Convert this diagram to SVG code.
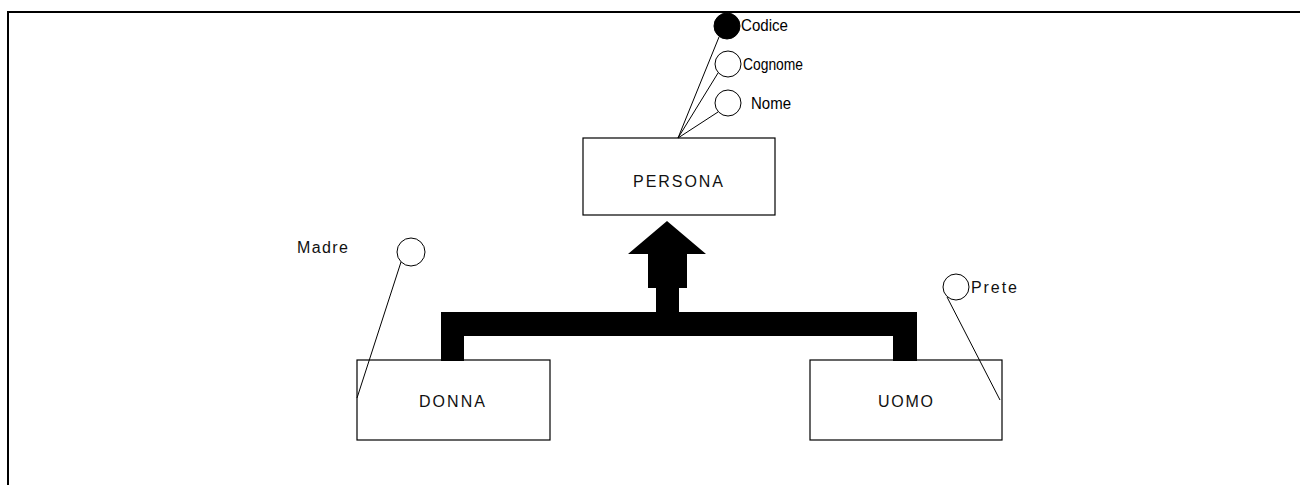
<svg xmlns="http://www.w3.org/2000/svg" width="1300" height="485" viewBox="0 0 1300 485">
<style>
.box{fill:#fff;stroke:#000;stroke-width:1.2}
.attr{fill:#fff;stroke:#000;stroke-width:1}
.key{fill:#000;stroke:#000;stroke-width:1}
.ln{stroke:#000;stroke-width:1;fill:none}
text{font-family:"Liberation Sans",Arial,sans-serif;font-size:16px;fill:#000}
.lbl{font-size:16px;fill:#111}
</style>
<rect width="1300" height="485" fill="#fff"/>
<path d="M8,485 V12 H1300" fill="none" stroke="#000" stroke-width="2"/>
<g id="persona"><rect class="box" x="583" y="138" width="192" height="77"/><text class="lbl" x="633" y="187" textLength="90" lengthAdjust="spacing">PERSONA</text></g>
<g id="codice"><circle class="key" cx="727" cy="26" r="13"/><text x="741" y="31" textLength="47" lengthAdjust="spacingAndGlyphs">Codice</text></g>
<g id="cognome"><circle class="attr" cx="728" cy="64" r="13"/><text x="743" y="70" textLength="60" lengthAdjust="spacingAndGlyphs">Cognome</text></g>
<g id="nome"><circle class="attr" cx="728" cy="103" r="13"/><text x="751" y="109" textLength="40" lengthAdjust="spacingAndGlyphs">Nome</text></g>
<g id="donna"><rect class="box" x="357" y="360" width="193" height="80"/><text class="lbl" x="419" y="407" textLength="66" lengthAdjust="spacing">DONNA</text></g>
<g id="madre"><circle class="attr" cx="411" cy="252" r="14"/><text class="lbl" x="297" y="253" textLength="51" lengthAdjust="spacing">Madre</text></g>
<g id="uomo"><rect class="box" x="810" y="360" width="192" height="80"/><text class="lbl" x="878" y="407" textLength="55" lengthAdjust="spacing">UOMO</text></g>
<g id="prete"><circle class="attr" cx="956" cy="287" r="13"/><text class="lbl" x="971" y="293" textLength="46" lengthAdjust="spacing">Prete</text></g>
<g id="connectors">
<line class="ln" x1="678" y1="138" x2="719" y2="37"/>
<line class="ln" x1="678" y1="138" x2="718" y2="73"/>
<line class="ln" x1="678" y1="138" x2="718" y2="112"/>
<line class="ln" x1="401" y1="262" x2="357" y2="398"/>
<line class="ln" x1="947" y1="297" x2="1000" y2="400"/>
<path id="isa" d="M667,221 L706,254 L687,254 L687,288 L679,288 L679,312 L917,312 L917,361 L893,361 L893,336 L464,336 L464,361 L441,361 L441,312 L656,312 L656,288 L648,288 L648,254 L628,254 Z" fill="#000"/>
</g>
</svg>
